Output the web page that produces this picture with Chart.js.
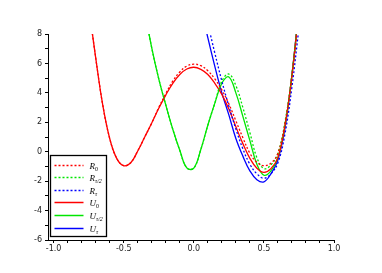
<!DOCTYPE html>
<html>
<head>
<meta charset="utf-8">
<script src="https://cdn.jsdelivr.net/npm/chart.js@4"></script>
<style>
  body { margin: 0; background: #fff; }
</style>
</head>
<body>
<canvas id="chart" width="382" height="273"></canvas>
<script>
// sample positions shared by all curves
var xs = [-0.75, -0.70, -0.65, -0.60, -0.55, -0.50, -0.45, -0.40, -0.35, -0.30,
          -0.25, -0.20, -0.15, -0.10, -0.05, 0.00, 0.05, 0.10, 0.15, 0.20,
          0.25, 0.30, 0.35, 0.40, 0.45, 0.50, 0.55, 0.60, 0.65, 0.70, 0.75];

// (null = above the top of the plot)
var r0   = [9.9, 6.4, 3.2, 0.9, -0.45, -0.95, -0.75, 0.05, 1.0, 1.95,
            3.0, 3.95, 4.8, 5.42, 5.82, 5.95, 5.85, 5.5, 4.95, 4.2,
            3.25, 2.1, 0.95, -0.1, -0.72, -0.95, -0.78, -0.1, 1.9, 5.1, 9.4];
var rHalf = [null, null, null, null, null, null, null, null, 9.6, 7.05,
            4.95, 3.18, 1.53, 0.1, -1.1, -1.12, 0.15, 1.8, 3.3, 4.8,
            5.28, 4.5, 3.0, 1.3, -0.4, -1.15, -0.9, -0.1, 2.0, 5.2, 9.6];
var rTau = [null, null, null, null, null, null, null, null, null, null,
            null, null, null, null, null, null, null, 8.7, 6.7, 4.8,
            3.1, 1.55, 0.2, -0.85, -1.5, -1.8, -1.5, -0.75, 1.2, 4.4, 8.4];
var u0   = [9.9, 6.4, 3.2, 0.9, -0.45, -0.95, -0.75, 0.05, 1.0, 1.95,
            2.95, 3.85, 4.65, 5.25, 5.62, 5.74, 5.6, 5.25, 4.65, 3.9,
            2.9, 1.7, 0.55, -0.45, -1.12, -1.4, -1.15, -0.4, 1.75, 5.2, 9.7];
var uHalf = [null, null, null, null, null, null, null, null, 9.6, 7.05,
            4.95, 3.18, 1.53, 0.1, -1.1, -1.12, 0.15, 1.8, 3.3, 4.65,
            5.08, 4.0, 2.4, 0.75, -0.85, -1.6, -1.3, -0.4, 1.7, 5.2, 9.7];
var uTau = [null, null, null, null, null, null, null, null, null, null,
            null, null, null, null, null, null, 9.9, 7.75, 5.8, 4.0,
            2.5, 0.9, -0.3, -1.3, -1.9, -2.05, -1.5, -0.55, 1.6, 5.2, 9.8];

var seriesNames = [['R', '0'], ['R', 'τ/2'], ['R', 'τ'], ['U', '0'], ['U', 'τ/2'], ['U', 'τ']];
var seriesColors = ['#ff0000', '#00e600', '#0000ff', '#ff0000', '#00e600', '#0000ff'];
var seriesDashed = [true, true, true, false, false, false];

var xMajor = [-1.0, -0.5, 0.0, 0.5, 1.0];
var xMajorLabels = ['-1.0', '-0.5', '0.0', '0.5', '1.0'];
var yMajor = [-6, -4, -2, 0, 2, 4, 6, 8];

function points(ys) {
    return xs.map(function (x, i) { return { x: x, y: ys[i] }; });
}

var allSeries = [r0, rHalf, rTau, u0, uHalf, uTau];
var datasets = allSeries.map(function (ys, i) {
    return {
        label: seriesNames[i].join('_'),
        data: points(ys),
        borderColor: seriesColors[i],
        borderWidth: 1.3,
        borderDash: seriesDashed[i] ? [2, 2] : [],
        pointRadius: 0,
        fill: false,
        tension: 0.4,
        clip: 0
    };
});

// legend with subscripts, drawn by hand
var subLegend = {
    id: 'subLegend',
    afterDraw: function (chart) {
        var ctx = chart.ctx;
        var a = chart.chartArea;
        var left = a.left + 2.5, top = a.top + 121.5, w = 56, h = 81;
        ctx.save();
        ctx.fillStyle = '#fff';
        ctx.fillRect(left, top, w, h);
        ctx.strokeStyle = '#000';
        ctx.lineWidth = 1.3;
        ctx.strokeRect(left, top, w, h);
        for (var i = 0; i < seriesNames.length; i++) {
            var y = Math.round(top + 9 + i * 12.6) + 0.5;
            ctx.beginPath();
            ctx.setLineDash(seriesDashed[i] ? [2, 2] : []);
            ctx.strokeStyle = seriesColors[i];
            ctx.lineWidth = 1.5;
            ctx.moveTo(left + 4, y);
            ctx.lineTo(left + 33, y);
            ctx.stroke();
            ctx.setLineDash([]);
            ctx.fillStyle = '#000';
            ctx.textBaseline = 'alphabetic';
            ctx.font = 'italic 9px "Liberation Serif"';
            ctx.fillText(seriesNames[i][0], left + 39, y + 3);
            var rw = ctx.measureText(seriesNames[i][0]).width;
            ctx.font = (seriesNames[i][1] === '0' ? '' : 'italic ') + '6px "Liberation Serif"';
            ctx.fillText(seriesNames[i][1], left + 39 + rw, y + 5);
        }
        ctx.restore();
    }
};

function isMajor(v, list) {
    return list.some(function (m) { return Math.abs(m - v) < 1e-9; });
}

var chart = new Chart(document.getElementById('chart').getContext('2d'), {
    type: 'line',
    data: { datasets: datasets },
    options: {
        responsive: false,
        animation: false,
        devicePixelRatio: 1,
        layout: { padding: { top: 34, right: 48, left: 0, bottom: 0 } },
        plugins: { legend: { display: false }, tooltip: { enabled: false } },
        scales: {
            x: {
                type: 'linear',
                min: -1.04,
                max: 1.0,
                afterFit: function (s) { s.height = 33; },
                afterBuildTicks: function (s) {
                    var t = [];
                    for (var i = -10; i <= 10; i++) t.push({ value: i / 10 });
                    s.ticks = t;
                },
                grid: { display: true, drawOnChartArea: false, tickLength: 3, color: '#000' },
                border: { display: true, color: '#000', width: 1 },
                ticks: {
                    autoSkip: false,
                    maxRotation: 0,
                    padding: 1,
                    color: '#222',
                    font: { family: 'DejaVu Sans', size: 8 },
                    callback: function (v) {
                        for (var k = 0; k < xMajor.length; k++) {
                            if (Math.abs(xMajor[k] - v) < 1e-9) return xMajorLabels[k];
                        }
                        return '';
                    }
                }
            },
            y: {
                min: -6,
                max: 8,
                afterFit: function (s) { s.width = 48; },
                afterBuildTicks: function (s) {
                    var t = [];
                    for (var v = -6; v <= 8; v++) t.push({ value: v });
                    s.ticks = t;
                },
                grid: { display: true, drawOnChartArea: false, tickLength: 3, color: '#000' },
                border: { display: true, color: '#000', width: 1 },
                ticks: {
                    autoSkip: false,
                    padding: 3,
                    color: '#222',
                    font: { family: 'DejaVu Sans', size: 8 },
                    callback: function (v) { return isMajor(v, yMajor) ? String(v) : ''; }
                }
            }
        }
    },
    plugins: [subLegend]
});
</script>
</body>
</html>
